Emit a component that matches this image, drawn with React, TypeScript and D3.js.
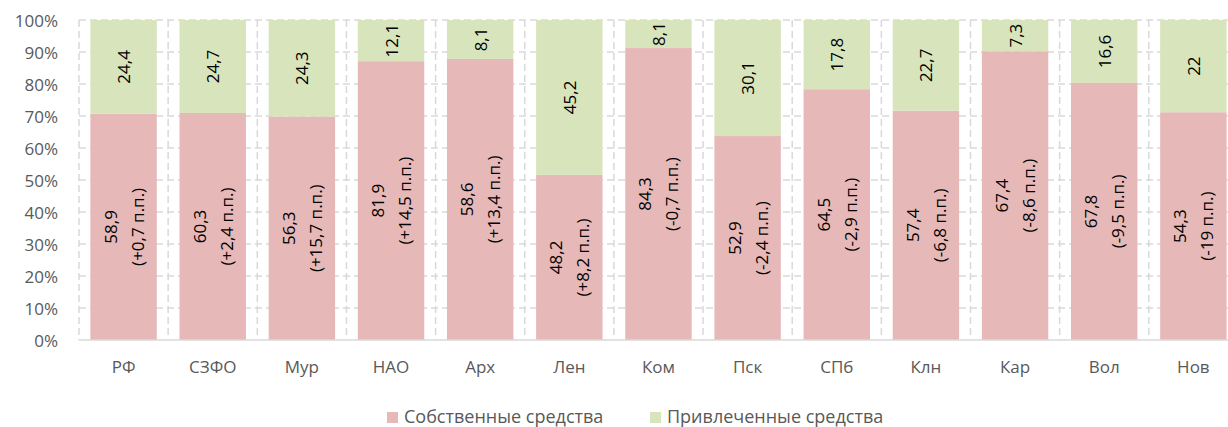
import React from "react";
import { scaleBand, scaleLinear, stack, stackOffsetExpand, range } from "d3";

const svgWidth = 1228;
const svgHeight = 427;
const margin = { top: 20, left: 79, bottom: 87 };
const step = 89.15;

const categories = ["РФ", "СЗФО", "Мур", "НАО", "Арх", "Лен", "Ком", "Пск", "СПб", "Клн", "Кар", "Вол", "Нов"];
const ownFunds = [58.9, 60.3, 56.3, 81.9, 58.6, 48.2, 84.3, 52.9, 64.5, 57.4, 67.4, 67.8, 54.3];
const ownChange = ["+0,7", "+2,4", "+15,7", "+14,5", "+13,4", "+8,2", "-0,7", "-2,4", "-2,9", "-6,8", "-8,6", "-9,5", "-19"];
const borrowedFunds = [24.4, 24.7, 24.3, 12.1, 8.1, 45.2, 8.1, 30.1, 17.8, 22.7, 7.3, 16.6, 22];
const yTicks = [0, 0.1, 0.2, 0.3, 0.4, 0.5, 0.6, 0.7, 0.8, 0.9, 1];
const seriesNames = ["Собственные средства", "Привлеченные средства"];
const colors = ["#E6B8B7", "#D8E4BC"];

const font = "'Open Sans', sans-serif";
const fmt = (v: number) => String(v).replace(".", ",");

export default function App() {
  const rows = categories.map((name, i) => ({ name, own: ownFunds[i], borrowed: borrowedFunds[i] }));
  const series = stack<any>().keys(["own", "borrowed"]).offset(stackOffsetExpand)(rows);

  const x = scaleBand()
    .domain(categories)
    .range([margin.left, margin.left + categories.length * step])
    .paddingInner(0.255)
    .paddingOuter(0.1275);
  const y = scaleLinear().domain([0, 1]).range([svgHeight - margin.bottom, margin.top]);

  const plotRight = margin.left + categories.length * step;
  const bottom = y(0);

  return (
    <svg
      width={svgWidth}
      height={svgHeight}
      style={{ position: "absolute", left: 0, top: 0, background: "#fff" }}
      fontFamily={font}
    >
      {/* horizontal grid */}
      {yTicks.slice(1).map((t) => (
        <line
          key={`h${t}`}
          x1={margin.left}
          x2={plotRight}
          y1={y(t)}
          y2={y(t)}
          stroke="#D9D9D9"
          strokeWidth={1.5}
          strokeDasharray="7,4"
        />
      ))}
      {/* vertical grid at category boundaries */}
      {range(categories.length + 1).map((i) => (
        <line
          key={`v${i}`}
          x1={margin.left + i * step}
          x2={margin.left + i * step}
          y1={y(1)}
          y2={bottom}
          stroke="#D9D9D9"
          strokeWidth={1.5}
          strokeDasharray="7,4"
        />
      ))}

      {series.map((s, si) => (
        <g key={s.key} fill={colors[si]}>
          {s.map((d: any, i: number) => (
            <rect
              key={i}
              x={x(categories[i])}
              width={x.bandwidth()}
              y={y(d[1])}
              height={y(d[0]) - y(d[1])}
            />
          ))}
        </g>
      ))}

      <line x1={margin.left} x2={plotRight} y1={bottom} y2={bottom} stroke="#D9D9D9" strokeWidth={1.5} />

      {yTicks.map((t) => (
        <text
          key={`yt${t}`}
          x={58}
          y={y(t)}
          textAnchor="end"
          dominantBaseline="central"
          fontSize={17}
          fill="#595959"
        >
          {`${Math.round(t * 100)}%`}
        </text>
      ))}

      {categories.map((c) => (
        <text
          key={`xt${c}`}
          x={x(c)! + x.bandwidth() / 2}
          y={373}
          textAnchor="middle"
          fontSize={17}
          fill="#595959"
        >
          {c}
        </text>
      ))}

      {/* value labels */}
      {series[0].map((d: any, i: number) => {
        const cx = x(categories[i])! + x.bandwidth() / 2;
        const cy = (y(d[0]) + y(d[1])) / 2;
        return (
          <g key={`lo${i}`} transform={`translate(${cx},${cy}) rotate(-90)`} fontSize={17} fill="#000">
            <text y={-13.5} textAnchor="middle" dominantBaseline="central">
              {fmt(ownFunds[i])}
            </text>
            <text y={13.5} textAnchor="middle" dominantBaseline="central">
              {`(${ownChange[i]} п.п.)`}
            </text>
          </g>
        );
      })}
      {series[1].map((d: any, i: number) => {
        const cx = x(categories[i])! + x.bandwidth() / 2;
        const cy = (y(d[0]) + y(d[1])) / 2;
        return (
          <text
            key={`lb${i}`}
            transform={`translate(${cx},${cy}) rotate(-90)`}
            textAnchor="middle"
            dominantBaseline="central"
            fontSize={17}
            fill="#000"
          >
            {fmt(borrowedFunds[i])}
          </text>
        );
      })}

      {/* legend */}
      {seriesNames.map((name, i) => {
        const lx = i === 0 ? 387 : 650;
        return (
          <g key={name}>
            <rect x={lx} y={412} width={11} height={11} fill={colors[i]} />
            <text x={lx + 17} y={423} fontSize={18} fill="#595959">
              {name}
            </text>
          </g>
        );
      })}
    </svg>
  );
}
